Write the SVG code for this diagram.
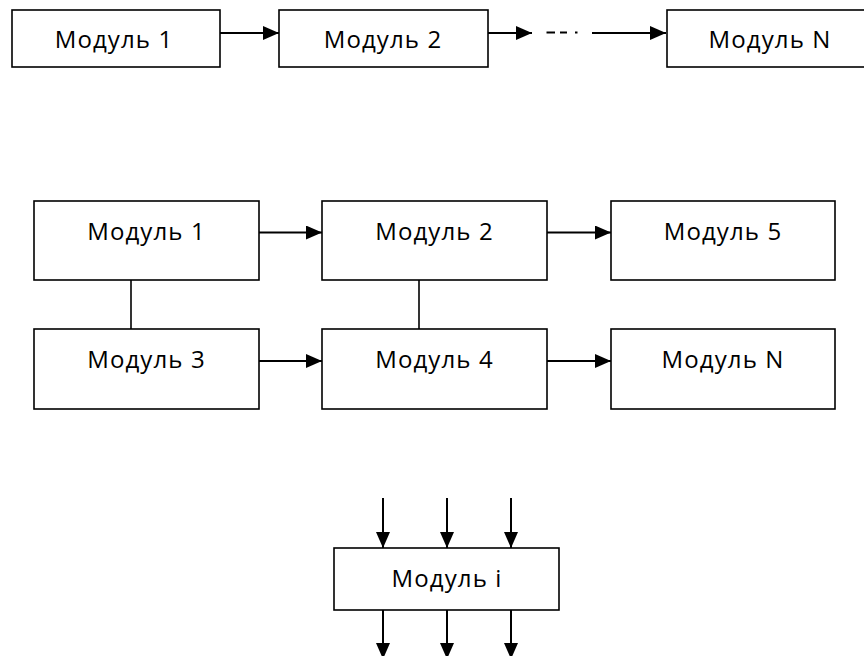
<svg xmlns="http://www.w3.org/2000/svg" width="864" height="656" viewBox="0 0 864 656">
<style>
.box{fill:#fff;stroke:#000;stroke-width:1.6}
.lbl{font-family:"Open Sans","Liberation Sans",sans-serif;font-size:24px;fill:#000;text-anchor:middle;letter-spacing:1.1px}
.ar{stroke:#000;stroke-width:2;fill:none;marker-end:url(#ah)}
.ln{stroke:#000;stroke-width:1.6;fill:none}
.ds{stroke:#000;stroke-width:2;fill:none}
</style>
<defs>
<marker id="ah" markerUnits="userSpaceOnUse" markerWidth="17" markerHeight="15" refX="16" refY="7" orient="auto">
<path d="M0,0 L16,7 L0,14 z" fill="#000"/>
</marker>
</defs>
<rect width="864" height="656" fill="#fff"/>
<g id="t1"><rect class="box" x="12" y="10" width="208" height="57"/><text class="lbl" x="114" y="48">Модуль 1</text></g>
<g id="t2"><rect class="box" x="279" y="10" width="209" height="57"/><text class="lbl" x="383" y="48">Модуль 2</text></g>
<g id="tN"><rect class="box" x="667" y="10" width="207" height="57"/><text class="lbl" x="770" y="48">Модуль N</text></g>
<g id="m1"><rect class="box" x="34" y="201" width="225" height="79"/><text class="lbl" x="146.5" y="240">Модуль 1</text></g>
<g id="m2"><rect class="box" x="322" y="201" width="225" height="79"/><text class="lbl" x="434.5" y="240">Модуль 2</text></g>
<g id="m5"><rect class="box" x="611" y="201" width="224" height="79"/><text class="lbl" x="723" y="240">Модуль 5</text></g>
<g id="m3"><rect class="box" x="34" y="329" width="225" height="80"/><text class="lbl" x="146.5" y="368">Модуль 3</text></g>
<g id="m4"><rect class="box" x="322" y="329" width="225" height="80"/><text class="lbl" x="434.5" y="368">Модуль 4</text></g>
<g id="mN"><rect class="box" x="611" y="329" width="224" height="80"/><text class="lbl" x="723" y="368">Модуль N</text></g>
<g id="bi"><rect class="box" x="334" y="548" width="225" height="62"/><text class="lbl" x="447" y="587">Модуль i</text></g>
<g id="connectors">
<line class="ar" x1="220" y1="33" x2="279" y2="33"/>
<line class="ar" x1="488" y1="33" x2="532" y2="33"/>
<line class="ds" x1="546.5" y1="32.5" x2="555" y2="32.5"/>
<line class="ds" x1="560" y1="32.5" x2="567" y2="32.5"/>
<line class="ds" x1="575" y1="32.5" x2="577.5" y2="32.5"/>
<line class="ar" x1="592" y1="33" x2="666" y2="33"/>
<line class="ar" x1="259" y1="232.5" x2="322" y2="232.5"/>
<line class="ar" x1="547" y1="232.5" x2="611" y2="232.5"/>
<line class="ar" x1="259" y1="361" x2="322" y2="361"/>
<line class="ar" x1="547" y1="361" x2="611" y2="361"/>
<line class="ln" x1="131" y1="280" x2="131" y2="329"/>
<line class="ln" x1="419" y1="280" x2="419" y2="329"/>
<line class="ar" x1="383" y1="498" x2="383" y2="548"/>
<line class="ar" x1="447" y1="498" x2="447" y2="548"/>
<line class="ar" x1="511" y1="498" x2="511" y2="548"/>
<line class="ar" x1="383" y1="610" x2="383" y2="659"/>
<line class="ar" x1="447" y1="610" x2="447" y2="659"/>
<line class="ar" x1="511" y1="610" x2="511" y2="659"/>
</g>
</svg>
